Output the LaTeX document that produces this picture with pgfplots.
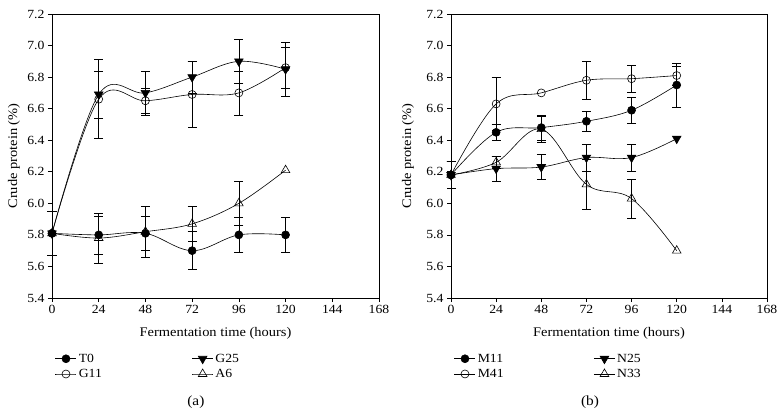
\documentclass[border=0pt]{standalone}
\usepackage{pgfplots}
\pgfplotsset{compat=1.18}
\usepackage{pgfplotstable}
\usepackage{fontspec}
\setmainfont{Liberation Serif}[FakeStretch=1.1]

% columns: time, crude protein, error (0 = no bar)
\pgfplotstableread{
x y e
0 5.81 0.14
24 5.80 0.12
48 5.81 0.11
72 5.70 0.12
96 5.80 0.11
120 5.80 0.11
}\Tzero
\pgfplotstableread{
x y e
0 5.81 0.14
24 6.69 0.15
48 6.70 0.14
72 6.80 0.10
96 6.90 0.14
120 6.85 0.17
}\Gtwentyfive
\pgfplotstableread{
x y e
0 5.81 0.14
24 6.66 0.25
48 6.65 0.08
72 6.69 0.21
96 6.70 0.14
120 6.86 0.13
}\Geleven
\pgfplotstableread{
x y e
0 5.81 0.14
24 5.78 0.16
48 5.82 0.16
72 5.87 0.11
96 6.00 0.14
120 6.21 0
}\Asix
\pgfplotstableread{
x y e
0 6.18 0.085
24 6.45 0.05
48 6.48 0.08
72 6.52 0.065
96 6.59 0.08
120 6.75 0.14
}\Meleven
\pgfplotstableread{
x y e
0 6.18 0.085
24 6.22 0.08
48 6.23 0.08
72 6.29 0.085
96 6.29 0.085
120 6.41 0
}\Ntwentyfive
\pgfplotstableread{
x y e
0 6.18 0.085
24 6.63 0.17
48 6.70 0
72 6.78 0.12
96 6.79 0.085
120 6.81 0.06
}\Mfortyone
\pgfplotstableread{
x y e
0 6.18 0.085
24 6.26 0.04
48 6.47 0.08
72 6.12 0.16
96 6.03 0.125
120 5.70 0
}\Nthirtythree

\pgfplotsset{
  panel/.style={
    scale only axis, width=327bp, height=284bp, clip=false,
    xmin=0, xmax=168, ymin=5.4, ymax=7.2,
    xtick={0,24,...,168}, ytick={5.4,5.6,...,7.21},
    xtick pos=bottom, ytick pos=left, tick align=outside,
    major tick length=4bp,
    tick style={black, line width=0.6pt},
    axis line style={line width=0.6pt},
    /pgf/number format/assume math mode=true,
    yticklabel style={/pgf/number format/.cd, fixed, fixed zerofill, precision=1},
    xlabel={Fermentation time (hours)},
    ylabel={Crude protein (\%)},
    xlabel style={at={(axis description cs:0.5,-0.123)}, anchor=center,
      font=\fontsize{13.2}{15}\selectfont},
    ylabel style={font=\fontsize{13.2}{15}\selectfont},
    legend columns=2,
    legend style={at={(0,-0.182)}, anchor=north west, draw=none, fill=none,
      font=\fontsize{12.5}{14}\selectfont,
      row sep=1.5bp, /tikz/every even column/.append style={column sep=88bp}},
    legend cell align=left,
    legend image code/.code={
      \draw[mark repeat=2, mark phase=2, #1] plot coordinates {(0bp,0bp) (10.5bp,0bp) (21bp,0bp)};},
  },
  series/.style={black, line width=0.6pt, smooth, tension=0.6},
  ebar/.style={forget plot, draw=none, mark=none,
    restrict expr to domain={\thisrow{e}}{0.001:10},
    error bars/.cd, y dir=both, y explicit,
    error bar style={draw=black, line width=0.6pt},
    error mark options={draw=black, rotate=90, mark size=4.5bp, line width=0.6pt}},
  fcirc/.style={series, mark=*, mark size=4bp, mark options={fill=black}},
  ocirc/.style={series, mark=o, mark size=4bp, mark options={fill=white}},
  ftri/.style={series, mark=triangle*, mark size=5bp, mark options={fill=black, rotate=180}},
  otri/.style={series, mark=triangle, mark size=5bp, mark options={fill=white}},
}

\begin{document}
\begin{tikzpicture}[font=\fontsize{12.5}{14}\selectfont]
\useasboundingbox (-52bp,-116bp) rectangle (732bp,298bp);
\begin{axis}[panel, at={(0bp,0bp)},
  ylabel style={at={(axis description cs:-0.116,0.5)}, anchor=center}]
  \addplot[ebar] table[x=x, y=y, y error=e] {\Tzero};
  \addplot[ebar] table[x=x, y=y, y error=e] {\Gtwentyfive};
  \addplot[ebar] table[x=x, y=y, y error=e] {\Geleven};
  \addplot[ebar] table[x=x, y=y, y error=e] {\Asix};
  \addplot[fcirc] table[x=x, y=y] {\Tzero};
  \addlegendentry{T0}
  \addplot[ftri] table[x=x, y=y] {\Gtwentyfive};
  \addlegendentry{G25}
  \addplot[ocirc] table[x=x, y=y] {\Geleven};
  \addlegendentry{G11}
  \addplot[otri] table[x=x, y=y] {\Asix};
  \addlegendentry{A6}
  \node[font=\fontsize{14}{16}\selectfont] at (axis description cs:0.44,-0.366) {(a)};
\end{axis}
\begin{axis}[panel, width=316bp, at={(399bp,0bp)},
  ylabel style={at={(axis description cs:-0.136,0.5)}, anchor=center}]
  \addplot[ebar] table[x=x, y=y, y error=e] {\Meleven};
  \addplot[ebar] table[x=x, y=y, y error=e] {\Ntwentyfive};
  \addplot[ebar] table[x=x, y=y, y error=e] {\Mfortyone};
  \addplot[ebar] table[x=x, y=y, y error=e] {\Nthirtythree};
  \addplot[fcirc] table[x=x, y=y] {\Meleven};
  \addlegendentry{M11}
  \addplot[ftri] table[x=x, y=y] {\Ntwentyfive};
  \addlegendentry{N25}
  \addplot[ocirc] table[x=x, y=y] {\Mfortyone};
  \addlegendentry{M41}
  \addplot[otri] table[x=x, y=y] {\Nthirtythree};
  \addlegendentry{N33}
  \node[font=\fontsize{14}{16}\selectfont] at (axis description cs:0.44,-0.366) {(b)};
\end{axis}
\end{tikzpicture}
\end{document}
